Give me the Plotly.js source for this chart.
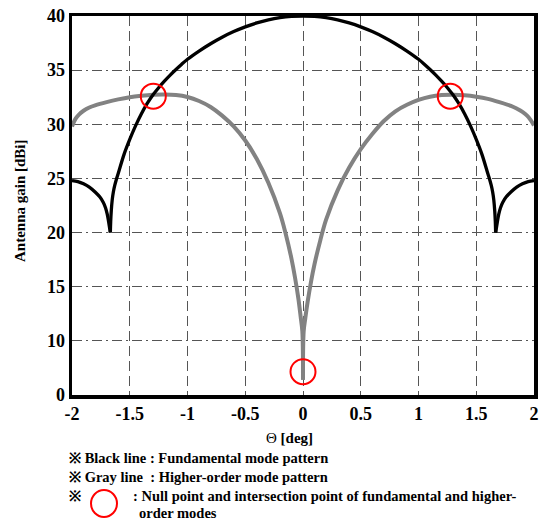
<!DOCTYPE html>
<html>
<head>
<meta charset="utf-8">
<script src="https://cdn.plot.ly/plotly-3.0.1.min.js"></script>
<style>html,body{margin:0;padding:0;background:#fff;}#chart{width:547px;height:520px;}</style>
</head>
<body>
<div id="chart"></div>
<script>
// Fundamental mode (black line), split at its nulls: theta [deg] and plotted gain position
const blackSideLeftTheta = [-2.0, -1.95, -1.9, -1.85, -1.8, -1.76, -1.73, -1.71, -1.695, -1.683, -1.674, -1.668];
const blackSideLeftGain  = [24.8, 24.7, 24.5, 24.2, 23.75, 23.3, 22.8, 22.3, 21.7, 21.0, 20.4, 20.0];
const blackMainTheta = [-1.668, -1.665, -1.66, -1.652, -1.642, -1.63, -1.616, -1.6, -1.55, -1.5, -1.45,
  -1.4, -1.35, -1.3, -1.25, -1.2, -1.15, -1.1, -1.05, -1.0, -0.9, -0.8, -0.7, -0.6, -0.5, -0.4, -0.3,
  -0.2, -0.1, 0, 0.1, 0.2, 0.3, 0.4, 0.5, 0.6, 0.7, 0.8, 0.9, 1.0, 1.05, 1.1, 1.15, 1.2, 1.25, 1.3,
  1.35, 1.4, 1.45, 1.5, 1.55, 1.6, 1.616, 1.63, 1.642, 1.652, 1.66, 1.665, 1.668];
const blackMainGain = [20.0, 21.0, 22.0, 23.0, 23.75, 24.35, 24.9, 25.45, 27.2, 28.6, 29.85,
  30.95, 31.9, 32.7, 33.38, 33.98, 34.54, 35.06, 35.55, 36.0, 36.76, 37.44, 38.04, 38.56, 39.0, 39.36, 39.64,
  39.84, 39.96, 40.0, 39.96, 39.84, 39.64, 39.36, 39.0, 38.56, 38.04, 37.44, 36.76, 36.0, 35.55, 35.06, 34.54, 33.98, 33.38, 32.7,
  31.9, 30.95, 29.85, 28.6, 27.2, 25.45, 24.9, 24.35, 23.75, 23.0, 22.0, 21.0, 20.0];
const blackSideRightTheta = [1.668, 1.674, 1.683, 1.695, 1.71, 1.73, 1.76, 1.8, 1.85, 1.9, 1.95, 2.0];
const blackSideRightGain  = [20.0, 20.4, 21.0, 21.7, 22.3, 22.8, 23.3, 23.75, 24.2, 24.5, 24.7, 24.8];

// Higher-order mode (gray line), split at its null at theta = 0
const grayLeftTheta = [-2.0, -1.97, -1.94, -1.9, -1.85, -1.8, -1.7, -1.6, -1.5, -1.4, -1.3, -1.2, -1.1,
  -1.0, -0.9, -0.8, -0.7, -0.6, -0.5, -0.4, -0.3, -0.2, -0.15, -0.1, -0.07, -0.04, -0.02, -0.006, 0];
const grayLeftGain = [29.8, 30.5, 30.9, 31.25, 31.55, 31.75, 32.05, 32.3, 32.5, 32.63, 32.72, 32.75, 32.7,
  32.52, 32.15, 31.6, 30.8, 29.8, 28.5, 26.8, 24.6, 21.8, 19.9, 17.6, 15.9, 13.9, 12.2, 10.9, 6.4];
const grayRightTheta = [0, 0.006, 0.02, 0.04, 0.07, 0.1, 0.15, 0.2, 0.3, 0.4, 0.5, 0.6, 0.7, 0.8, 0.9,
  1.0, 1.1, 1.2, 1.3, 1.4, 1.5, 1.6, 1.7, 1.8, 1.85, 1.9, 1.94, 1.97, 2.0];
const grayRightGain = [6.4, 10.9, 12.1, 13.6, 15.5, 17.1, 19.3, 21.2, 23.9, 26.0, 27.7, 29.1, 30.3, 31.2, 31.8,
  32.25, 32.55, 32.7, 32.73, 32.68, 32.55, 32.35, 32.05, 31.7, 31.45, 31.15, 30.8, 30.4, 29.9];

// Marked points: intersection points and null point
const markTheta = [-1.296, 1.275, 0];
const markGain = [32.6, 32.6, 7.15];

// Axis ticks (y axis is broken below 10: tick "0" sits one step below 10)
const xTicks = [-2, -1.5, -1, -0.5, 0, 0.5, 1, 1.5, 2];
const xTickText = ['-2', '-1.5', '-1', '-0.5', '0', '0.5', '1', '1.5', '2'];
const yTicks = [5, 10, 15, 20, 25, 30, 35, 40];
const yTickText = ['0', '10', '15', '20', '25', '30', '35', '40'];

const serif = 'Liberation Serif, Times New Roman, serif';
const bold = s => '<b>' + s + '</b>';

function lobe(x, y, color, width) {
  return {x: x, y: y, mode: 'lines', line: {color: color, width: width, shape: 'spline', smoothing: 1}, hoverinfo: 'skip'};
}

const GRAY = '#828282';
const traces = [
  lobe(grayLeftTheta, grayLeftGain, GRAY, 4),
  lobe(grayRightTheta, grayRightGain, GRAY, 4),
  lobe(blackSideLeftTheta, blackSideLeftGain, '#000', 3.3),
  lobe(blackMainTheta, blackMainGain, '#000', 3.3),
  lobe(blackSideRightTheta, blackSideRightGain, '#000', 3.3),
  {x: markTheta, y: markGain, mode: 'markers',
   marker: {symbol: 'circle-open', size: 25, color: '#ff0000', line: {width: 2, color: '#ff0000'}},
   hoverinfo: 'skip', cliponaxis: false}
];

const PX0 = 72, PX1 = 534, PY0 = 16, PY1 = 395;
function px(x) { return (x - PX0) / (PX1 - PX0); }
function py(y) { return (PY1 - y) / (PY1 - PY0); }

const txtFont = {family: serif, size: 14.5, color: '#000'};

const layout = {
  width: 547, height: 520,
  margin: {l: 72, r: 13, t: 16, b: 125, pad: 0},
  paper_bgcolor: '#fff', plot_bgcolor: '#fff',
  showlegend: false,
  xaxis: {
    range: [-2, 2], tickvals: xTicks, ticktext: xTickText.map(bold),
    showline: true, linecolor: '#000', linewidth: 3.5, mirror: true,
    showgrid: true, gridcolor: '#555', gridwidth: 1, griddash: '10px,5px',
    zeroline: false, ticks: '',
    tickfont: {family: serif, size: 18, color: '#000', weight: 'bold'}
  },
  yaxis: {
    range: [5, 40], tickvals: yTicks, ticktext: yTickText.map(bold),
    showline: true, linecolor: '#000', linewidth: 3.5, mirror: true,
    showgrid: true, gridcolor: '#555', gridwidth: 1, griddash: '10px,4px,2px,4px',
    zeroline: false, ticks: '',
    tickfont: {family: serif, size: 18, color: '#000', weight: 'bold'}
  },
  annotations: [
    {xref: 'paper', yref: 'paper', x: px(20), y: py(201), text: bold('Antenna gain [dBi]'), textangle: -90,
     showarrow: false, xanchor: 'center', yanchor: 'middle', font: {family: serif, size: 15, color: '#000'}},
    {xref: 'paper', yref: 'paper', x: px(289), y: py(438), text: 'Θ ' + bold('[deg]'),
     showarrow: false, xanchor: 'center', yanchor: 'middle', font: {family: serif, size: 15, color: '#000'}},
    {xref: 'paper', yref: 'paper', x: px(67), y: py(458), text: bold('※ Black line : Fundamental mode pattern'),
     showarrow: false, xanchor: 'left', yanchor: 'middle', font: txtFont},
    {xref: 'paper', yref: 'paper', x: px(67), y: py(477), text: bold('※ Gray line\u00a0 : Higher-order mode pattern'),
     showarrow: false, xanchor: 'left', yanchor: 'middle', font: txtFont},
    {xref: 'paper', yref: 'paper', x: px(67), y: py(496), text: bold('※'),
     showarrow: false, xanchor: 'left', yanchor: 'middle', font: txtFont},
    {xref: 'paper', yref: 'paper', x: px(131), y: py(496), text: bold(': Null point and intersection point of fundamental and higher-'),
     showarrow: false, xanchor: 'left', yanchor: 'middle', font: txtFont},
    {xref: 'paper', yref: 'paper', x: px(137), y: py(513), text: bold('order modes'),
     showarrow: false, xanchor: 'left', yanchor: 'middle', font: txtFont}
  ],
  shapes: [
    {type: 'circle', xref: 'paper', yref: 'paper', x0: px(91), x1: px(117), y0: py(517), y1: py(490),
     line: {color: '#ff0000', width: 2}}
  ]
};

Plotly.newPlot('chart', traces, layout, {staticPlot: true, displayModeBar: false});
</script>
</body>
</html>
